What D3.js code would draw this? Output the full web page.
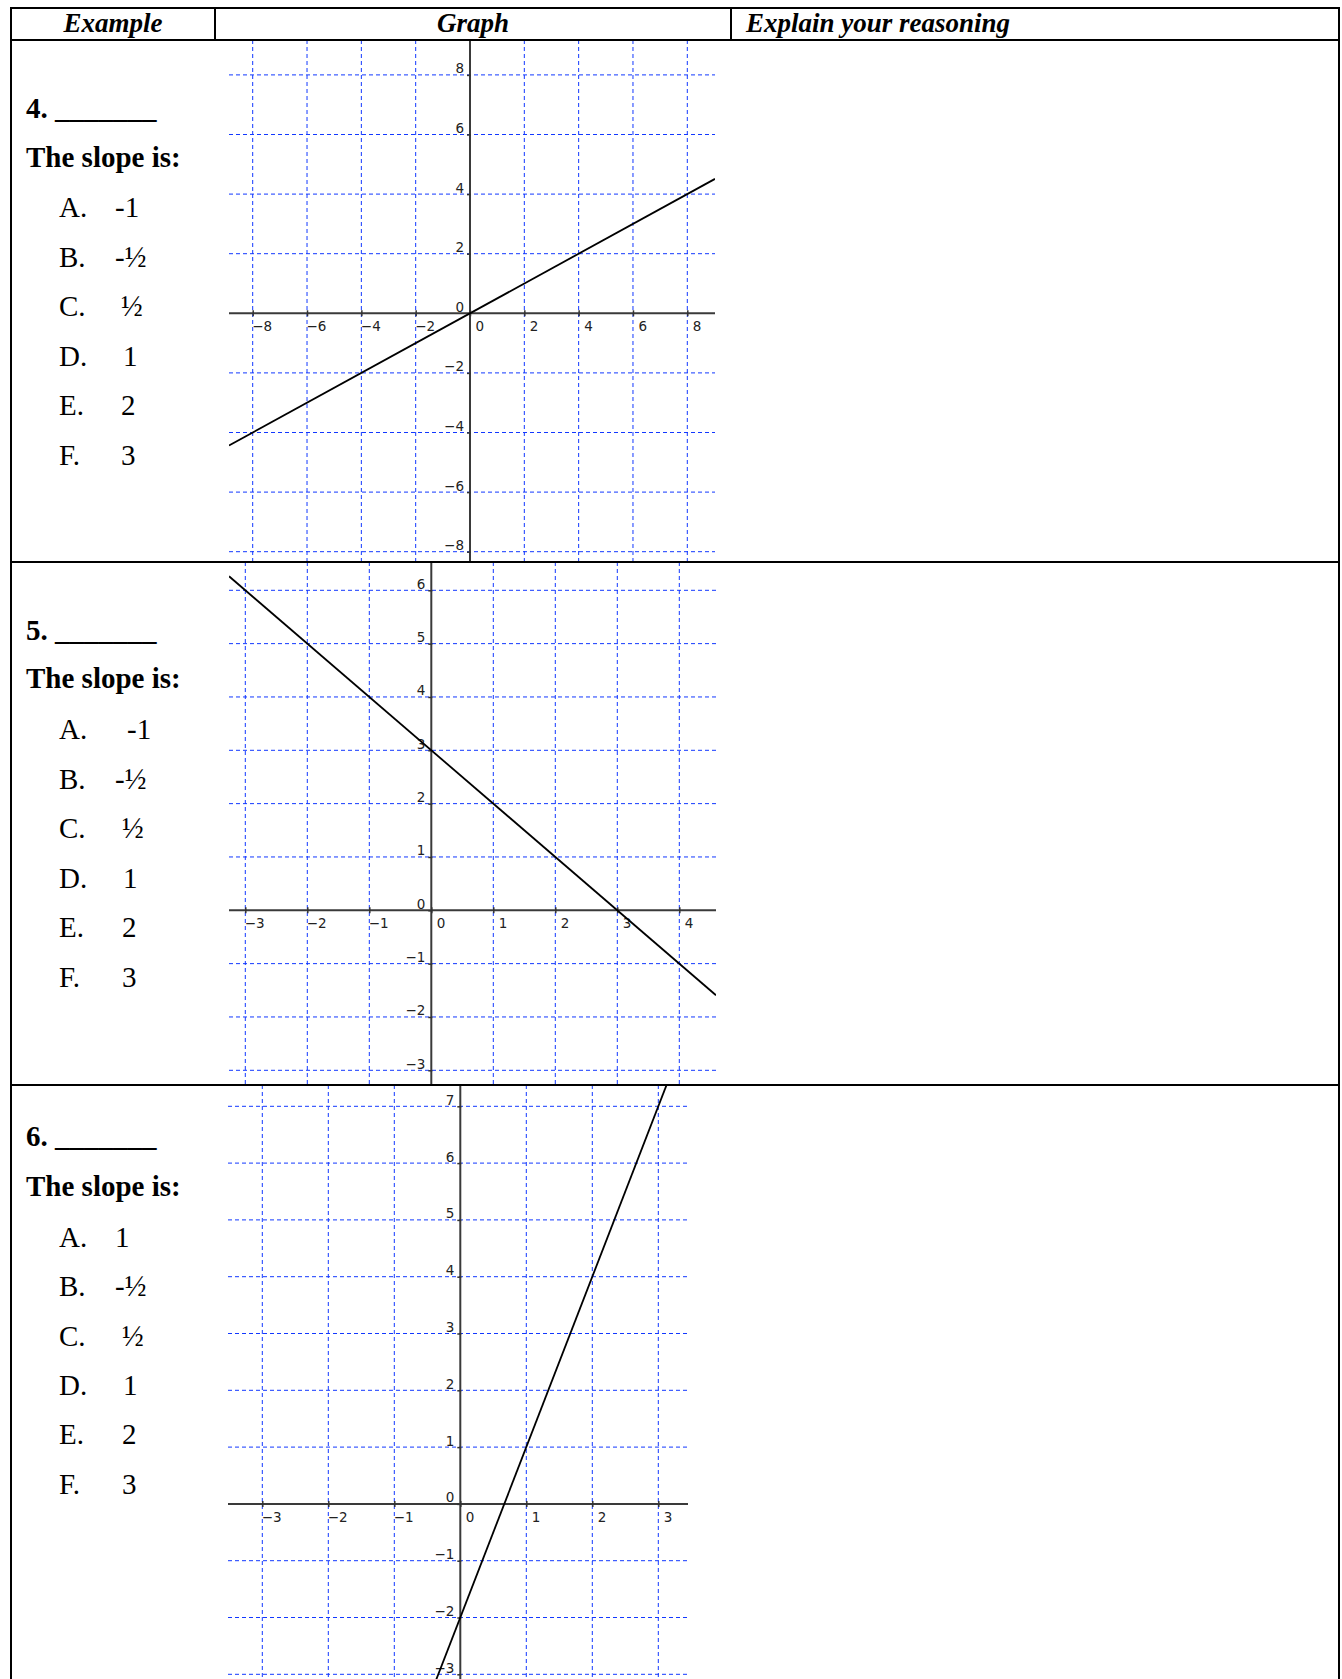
<!DOCTYPE html>
<html>
<head>
<meta charset="utf-8">
<script src="https://cdn.jsdelivr.net/npm/d3@7"></script>
<style>
  body { margin: 0; background: #fff; }
  .serif { font-family: "Liberation Serif", "Times New Roman", serif; fill: #000; }
  .tick text { font-family: "DejaVu Sans", sans-serif; font-size: 13.5px; fill: #222; }
</style>
</head>
<body>
<svg id="chart" width="1342" height="1679"></svg>
<script>
var headers = ["Example", "Graph", "Explain your reasoning"];
var questionNumbers = ["4.", "5.", "6."];
var optionLetters = ["A.", "B.", "C.", "D.", "E.", "F."];
var choices4 = ["-1", "-½", "½", "1", "2", "3"];
var choices5 = ["-1", "-½", "½", "1", "2", "3"];
var choices6 = ["1", "-½", "½", "1", "2", "3"];
var slopes = [0.5, -1, 3];
var intercepts = [0, 3, -2];
var xTicks4 = [-8, -6, -4, -2, 0, 2, 4, 6, 8];
var yTicks4 = [-8, -6, -4, -2, 0, 2, 4, 6, 8];
var xTicks5 = [-3, -2, -1, 0, 1, 2, 3, 4];
var yTicks5 = [-3, -2, -1, 0, 1, 2, 3, 4, 5, 6];
var xTicks6 = [-3, -2, -1, 0, 1, 2, 3];
var yTicks6 = [-3, -2, -1, 0, 1, 2, 3, 4, 5, 6, 7];

// ---- layout ----
var W = 1342, H = 1679;
var tableLeft = 11, tableRight = 1339, tableTop = 8, headerBottom = 40;
var colDividers = [215, 731];
var rowLines = [562, 1085];

var graphs = [
  {xt: xTicks4, yt: yTicks4, box: {l: 229, r: 715, t: 40,   b: 562},  xr: [252.7, 687.3], yr: [551.7, 74.9]},
  {xt: xTicks5, yt: yTicks5, box: {l: 229, r: 716, t: 562,  b: 1085}, xr: [245.3, 679.3], yr: [1070.3, 590.3]},
  {xt: xTicks6, yt: yTicks6, box: {l: 228, r: 688, t: 1085, b: 1679}, xr: [262.3, 658.3], yr: [1674.3, 1106.3]}
];

// text placement for the left column (baselines relative to the row top)
var textRows = [
  {top: 40,   num: 78, slope: 127, opt: 177, step: 49.6, valueX: [115, 115, 121, 123, 121, 121]},
  {top: 562,  num: 78, slope: 126, opt: 177, step: 49.6, valueX: [127, 115, 122, 123, 122, 122]},
  {top: 1085, num: 61, slope: 111, opt: 162, step: 49.3, valueX: [115, 115, 122, 123, 122, 122]}
];
var allChoices = [choices4, choices5, choices6];

var gridColor = "#1238ff";
var svg = d3.select("#chart");
svg.append("rect").attr("width", W).attr("height", H).attr("fill", "#fff");

// ---- graphs ----
graphs.forEach(function(g, i) {
  var x = d3.scaleLinear().domain(d3.extent(g.xt)).range(g.xr);
  var y = d3.scaleLinear().domain(d3.extent(g.yt)).range(g.yr);
  var b = g.box;

  var clipId = "clip" + i;
  svg.append("clipPath").attr("id", clipId)
    .append("rect").attr("x", b.l).attr("y", b.t).attr("width", b.r - b.l).attr("height", b.b - b.t);

  var gg = svg.append("g").attr("clip-path", "url(#" + clipId + ")");

  // dashed blue grid
  gg.selectAll(".vgrid")
    .data(g.xt.filter(function(d) { return d !== 0; }))
    .enter().append("line")
      .attr("x1", function(d) { return x(d); })
      .attr("x2", function(d) { return x(d); })
      .attr("y1", b.t).attr("y2", b.b)
      .attr("stroke", gridColor).attr("stroke-width", 1).attr("stroke-dasharray", "4,3");

  gg.selectAll(".hgrid")
    .data(g.yt.filter(function(d) { return d !== 0; }))
    .enter().append("line")
      .attr("y1", function(d) { return y(d); })
      .attr("y2", function(d) { return y(d); })
      .attr("x1", b.l).attr("x2", b.r)
      .attr("stroke", gridColor).attr("stroke-width", 1).attr("stroke-dasharray", "4,3");

  // main axes
  gg.append("line")
    .attr("x1", b.l).attr("x2", b.r).attr("y1", y(0)).attr("y2", y(0))
    .attr("stroke", "#3a3a3a").attr("stroke-width", 2);
  gg.append("line")
    .attr("x1", x(0)).attr("x2", x(0)).attr("y1", b.t).attr("y2", b.b)
    .attr("stroke", "#3a3a3a").attr("stroke-width", 2);

  // tick marks + labels
  var xAxis = gg.append("g")
    .attr("transform", "translate(0," + y(0) + ")")
    .call(d3.axisBottom(x).tickValues(g.xt).tickSize(3).tickFormat(d3.format("d")));
  xAxis.select(".domain").remove();
  xAxis.selectAll(".tick line").attr("y1", -3).attr("stroke", "#333").attr("stroke-width", 1.5);
  xAxis.selectAll(".tick text")
    .attr("text-anchor", "start")
    .attr("dy", null)
    .attr("y", 18)
    .attr("x", function(d) { return d < 0 ? -1 : 5; });

  var yAxis = gg.append("g")
    .attr("transform", "translate(" + x(0) + ",0)")
    .call(d3.axisLeft(y).tickValues(g.yt).tickSize(3).tickFormat(d3.format("d")));
  yAxis.select(".domain").remove();
  yAxis.selectAll(".tick line").attr("x1", 1).attr("stroke", "#333").attr("stroke-width", 1.5);
  yAxis.selectAll(".tick text")
    .attr("text-anchor", "end")
    .attr("dy", null)
    .attr("x", -6)
    .attr("y", -2);

  // the line y = m x + b
  var x0 = x.invert(b.l), x1 = x.invert(b.r);
  var pts = [x0, x1].map(function(v) { return [v, slopes[i] * v + intercepts[i]]; });
  gg.append("path")
    .datum(pts)
    .attr("d", d3.line().x(function(d) { return x(d[0]); }).y(function(d) { return y(d[1]); }))
    .attr("fill", "none")
    .attr("stroke", "#000")
    .attr("stroke-width", 1.8);
});

// ---- table lines ----
var tbl = svg.append("g").attr("stroke", "#000").attr("stroke-width", 2);
tbl.append("line").attr("x1", tableLeft - 1).attr("x2", tableRight + 1).attr("y1", tableTop).attr("y2", tableTop);
tbl.append("line").attr("x1", tableLeft - 1).attr("x2", tableRight + 1).attr("y1", headerBottom).attr("y2", headerBottom);
rowLines.forEach(function(r) {
  tbl.append("line").attr("x1", tableLeft - 1).attr("x2", tableRight + 1).attr("y1", r).attr("y2", r);
});
tbl.append("line").attr("x1", tableLeft).attr("x2", tableLeft).attr("y1", tableTop).attr("y2", H);
tbl.append("line").attr("x1", tableRight).attr("x2", tableRight).attr("y1", tableTop).attr("y2", H);
colDividers.forEach(function(c) {
  tbl.append("line").attr("x1", c).attr("x2", c).attr("y1", tableTop).attr("y2", headerBottom);
});

// ---- header text ----
var headerX = [(tableLeft + colDividers[0]) / 2, (colDividers[0] + colDividers[1]) / 2, colDividers[1] + 15];
var headerAnchor = ["middle", "middle", "start"];
svg.selectAll(".hdr")
  .data(headers)
  .enter().append("text")
    .attr("class", "serif")
    .attr("x", function(d, i) { return headerX[i]; })
    .attr("y", 32)
    .attr("text-anchor", function(d, i) { return headerAnchor[i]; })
    .style("font-size", "27px")
    .style("font-weight", "bold")
    .style("font-style", "italic")
    .text(function(d) { return d; });

// ---- left column questions ----
textRows.forEach(function(r, i) {
  var g = svg.append("g").attr("class", "serif");
  g.append("text")
    .attr("x", 26).attr("y", r.top + r.num)
    .style("font-size", "29px").style("font-weight", "bold")
    .attr("xml:space", "preserve")
    .text(questionNumbers[i] + " _______");
  g.append("text")
    .attr("x", 26).attr("y", r.top + r.slope)
    .style("font-size", "29px").style("font-weight", "bold")
    .text("The slope is:");
  g.selectAll(".letter")
    .data(optionLetters)
    .enter().append("text")
      .attr("x", 59)
      .attr("y", function(d, k) { return r.top + r.opt + k * r.step; })
      .style("font-size", "29px")
      .text(function(d) { return d; });
  g.selectAll(".choice")
    .data(allChoices[i])
    .enter().append("text")
      .attr("x", function(d, k) { return r.valueX[k]; })
      .attr("y", function(d, k) { return r.top + r.opt + k * r.step; })
      .style("font-size", "29px")
      .text(function(d) { return d; });
});
</script>
</body>
</html>
